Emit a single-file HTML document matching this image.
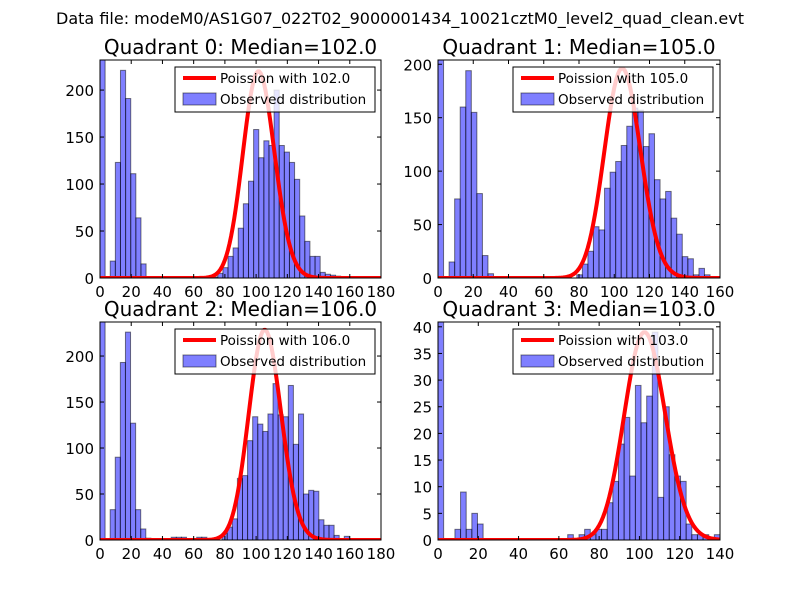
<!DOCTYPE html>
<html><head><meta charset="utf-8"><style>
body{margin:0;background:#fff;}
svg text{font-family:"DejaVu Sans","Liberation Sans",sans-serif;}
</style></head><body>
<svg id="fig" width="800" height="600" xmlns="http://www.w3.org/2000/svg">
<rect width="800" height="600" fill="#fff"/>
<text x="400" y="24" font-size="16" text-anchor="middle">Data file: modeM0/AS1G07_022T02_9000001434_10021cztM0_level2_quad_clean.evt</text>
</svg>
<script>
// Quadrant 0
const q0Counts = [300,0,18,123,221,191,111,64,15,0,0,0,0,0,0,0,0,0,0,0,0,0,1,5,11,23,32,53,79,103,158,128,146,141,200,141,134,123,105,66,39,23,23,6,4,3,2,1,1];
// Quadrant 1
const q1Counts = [300,0,15,74,160,194,155,79,21,4,0,0,0,0,0,0,0,1,0,0,0,1,0,0,0,3,13,25,48,45,84,99,109,124,142,159,157,123,135,92,74,81,56,41,20,18,3,9,3];
// Quadrant 2
const q2Counts = [300,0,33,90,193,226,127,33,12,2,0,0,0,0,3,3,3,0,0,3,3,0,0,0,7,14,23,67,70,108,134,126,118,137,170,136,134,168,104,137,50,54,53,22,16,16,5,1,4,1];
// Quadrant 3
const q3Counts = [50,0,0,2,9,2,5,3,0,0,0,0,0,0,0,0,0,0,0,0,0,0,0,1,0,1,2,1,2,2,7,11,18,23,12,29,22,27,39,8,25,16,12,11,3,1,1,1,0,1];
const binWidths = [3.28,3.15,3.26,2.8];
const medians = [102,105,106,103];
const poissonScale = [5570,5040,5900,992];
const xMaxes = [180,160,180,140];
const yMaxes = [232,204,237,40.9];
const xTickLabels = [[0,20,40,60,80,100,120,140,160,180],[0,20,40,60,80,100,120,140,160],[0,20,40,60,80,100,120,140,160,180],[0,20,40,60,80,100,120,140]];
const yTickLabels = [[0,50,100,150,200],[0,50,100,150,200],[0,50,100,150,200],[0,5,10,15,20,25,30,35,40]];
const allCounts = [q0Counts,q1Counts,q2Counts,q3Counts];

const NS="http://www.w3.org/2000/svg";
const svg=document.getElementById('fig');
function mk(tag,attrs,parent){const e=document.createElementNS(NS,tag);for(const k in attrs)e.setAttribute(k,attrs[k]);(parent||svg).appendChild(e);return e;}
function lgamma(z){
  let s=0; while(z<8){s-=Math.log(z);z+=1;}
  return s+(z-0.5)*Math.log(z)-z+0.5*Math.log(2*Math.PI)+1/(12*z)-1/(360*z*z*z);
}
function pmf(k,lam){return Math.exp(k*Math.log(lam)-lam-lgamma(k+1));}
const boxes=[[100,60,381,278],[438,60,720,278],[100,322,381,540],[438,322,720,540]];
for(let q=0;q<4;q++){
  const [L,T,R,B]=boxes[q];
  const g=mk('g',{});
  
  
  const xs=v=>L+(v/xMaxes[q])*(R-L);
  const ys=v=>B-(v/yMaxes[q])*(B-T);
  const cp=mk('clipPath',{id:'cp'+q},g);
  mk('rect',{x:L,y:T,width:R-L,height:B-T},cp);
  const bars=mk('g',{'clip-path':'url(#cp'+q+')'},g);
  const counts=allCounts[q];
  for(let i=0;i<counts.length;i++){
    if(counts[i]<=0)continue;
    const x0=xs(i*binWidths[q]),x1=xs((i+1)*binWidths[q]);
    const b=mk('rect',{x:x0,y:ys(counts[i]),width:x1-x0,height:B-ys(counts[i]),fill:'#0000ff','fill-opacity':0.5,stroke:'#000','stroke-opacity':0.5,'stroke-width':1},bars);
    
    
  }
  let d='';
  for(let k=0;k<=xMaxes[q];k++){d+=(k?'L':'M')+xs(k).toFixed(2)+','+ys(poissonScale[q]*pmf(k,medians[q])).toFixed(2);}
  const line=mk('path',{d:d,fill:'none',stroke:'#ff0000','stroke-width':4,'stroke-linejoin':'round'},bars);
  
  
  mk('rect',{x:L,y:T,width:R-L,height:B-T,fill:'none',stroke:'#000','stroke-width':1},g);
  xTickLabels[q].forEach(v=>{
    const x=xs(v);
    mk('line',{x1:x,y1:B,x2:x,y2:B-4,stroke:'#000'},g);
    mk('line',{x1:x,y1:T,x2:x,y2:T+4,stroke:'#000'},g);
    const t=mk('text',{x:x,y:B+19,'font-size':15,'text-anchor':'middle'},g);t.textContent=v;
    
    
  });
  yTickLabels[q].forEach(v=>{
    const y=ys(v);
    mk('line',{x1:L,y1:y,x2:L+4,y2:y,stroke:'#000'},g);
    mk('line',{x1:R,y1:y,x2:R-4,y2:y,stroke:'#000'},g);
    const t=mk('text',{x:L-6,y:y+6,'font-size':15,'text-anchor':'end'},g);t.textContent=v;
    
    
  });
  const tt=mk('text',{x:(L+R)/2,y:T-6,'font-size':20,'text-anchor':'middle'},g);
  tt.textContent='Quadrant '+q+': Median='+medians[q].toFixed(1);
  
  
  const lg=mk('g',{},g);
  
  
  mk('rect',{x:L+75,y:T+7,width:200,height:45,fill:'#fff','fill-opacity':0.8,stroke:'#000','stroke-width':1},lg);
  mk('line',{x1:L+83,y1:T+18,x2:L+116,y2:T+18,stroke:'#ff0000','stroke-width':4},lg);
  const t1=mk('text',{x:L+120,y:T+23,'font-size':13.5},lg);t1.textContent='Poission with '+medians[q].toFixed(1);
  mk('rect',{x:L+83,y:T+33,width:33,height:12,fill:'#0000ff','fill-opacity':0.5,stroke:'#000','stroke-opacity':0.5},lg);
  const t2=mk('text',{x:L+120,y:T+44,'font-size':13.5},lg);t2.textContent='Observed distribution';
}
</script>
</body></html>
